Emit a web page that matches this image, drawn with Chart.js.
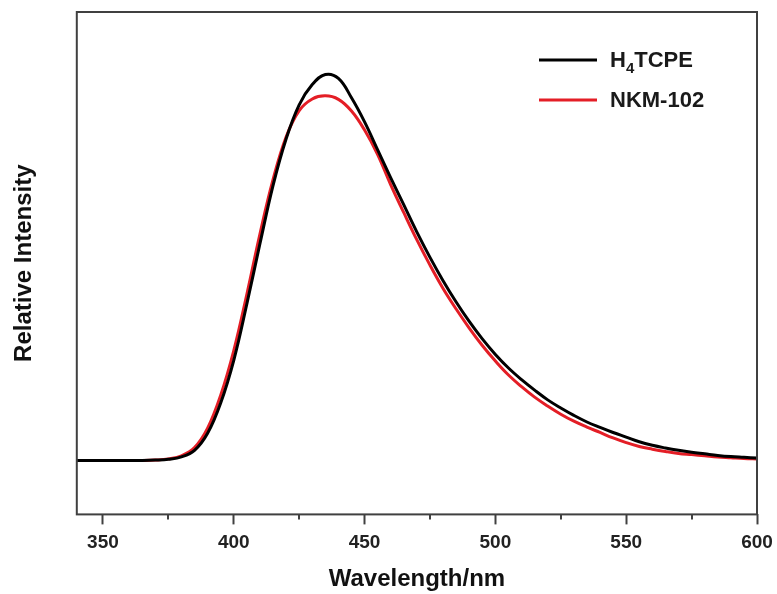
<!DOCTYPE html>
<html>
<head>
<meta charset="utf-8">
<script src="https://cdn.jsdelivr.net/npm/chart.js@4"></script>
<style>
  html, body { margin: 0; padding: 0; background: #fff; }
  #wrap { width: 777px; height: 594px; }
</style>
</head>
<body>
<div id="wrap"><canvas id="spec" width="777" height="594"></canvas></div>
<script>
/* ---------- data ---------- */
const wavelengths = [
  340, 345, 350, 355, 360, 365, 370, 375, 380, 385,
  390, 395, 400, 405, 410, 415, 420, 425, 430, 435,
  440, 445, 450, 455, 460, 465, 470, 475, 480, 485,
  490, 495, 500, 505, 510, 515, 520, 525, 530, 535,
  540, 545, 550, 555, 560, 565, 570, 575, 580, 585,
  590, 595, 600
];
const h4tcpe = [
  0.002, 0.002, 0.002, 0.002, 0.002, 0.002, 0.003, 0.005, 0.011, 0.028,
  0.072, 0.150, 0.260, 0.405, 0.560, 0.710, 0.830, 0.918, 0.970, 0.996,
  0.986, 0.936, 0.874, 0.802, 0.730, 0.660, 0.590, 0.525, 0.465, 0.410,
  0.360, 0.315, 0.275, 0.240, 0.210, 0.183, 0.158, 0.137, 0.118, 0.101,
  0.087, 0.074, 0.062, 0.050, 0.041, 0.034, 0.028, 0.023, 0.019, 0.015,
  0.012, 0.010, 0.008
];
const nkm102 = [
  0.002, 0.002, 0.002, 0.002, 0.002, 0.002, 0.003, 0.006, 0.014, 0.035,
  0.085, 0.170, 0.285, 0.430, 0.585, 0.725, 0.835, 0.903, 0.933, 0.941,
  0.932, 0.902, 0.853, 0.790, 0.712, 0.640, 0.570, 0.505, 0.445, 0.392,
  0.343, 0.298, 0.258, 0.222, 0.192, 0.165, 0.142, 0.121, 0.103, 0.088,
  0.074, 0.060, 0.048, 0.038, 0.031, 0.025, 0.020, 0.017, 0.014, 0.011,
  0.009, 0.007, 0.006
];
const seriesLabels = ['H\u2084TCPE', 'NKM-102'];
const seriesColors = ['#000000', '#e41e26'];
const majorTicks = [350, 400, 450, 500, 550, 600];
const minorTicks = [375, 425, 475, 525, 575];

const frameColor = '#404040';
const fontFam = '"Liberation Sans", Arial, sans-serif';

const pts = arr => wavelengths.map((w, i) => ({ x: w, y: arr[i] }));

/* ---------- frame, minor ticks, inset legend ---------- */
const framePlugin = {
  id: 'frame',
  afterDraw(chart) {
    const { ctx, chartArea: a, scales: { x } } = chart;
    ctx.save();
    ctx.strokeStyle = frameColor;
    ctx.lineWidth = 2;
    ctx.strokeRect(a.left, a.top, a.right - a.left, a.bottom - a.top);
    // minor ticks, shorter than the major ones
    ctx.beginPath();
    minorTicks.forEach(v => {
      const px = Math.round(x.getPixelForValue(v));
      ctx.moveTo(px, a.bottom);
      ctx.lineTo(px, a.bottom + 5);
    });
    ctx.stroke();

    // legend inside the plot, top right
    chart.data.datasets.forEach((ds, i) => {
      const y = a.top + 48 + i * 40;
      ctx.strokeStyle = ds.borderColor;
      ctx.lineWidth = 3;
      ctx.beginPath();
      ctx.moveTo(a.right - 218, y);
      ctx.lineTo(a.right - 160, y);
      ctx.stroke();
      drawLabel(ctx, ds.label, a.right - 147, y + 1);
    });
    ctx.restore();
  }
};

// draws subscript digits (U+2080..2089) smaller and lowered
function drawLabel(ctx, text, x, y) {
  ctx.fillStyle = '#1a1a1a';
  ctx.textBaseline = 'middle';
  ctx.textAlign = 'left';
  for (const ch of text) {
    const code = ch.charCodeAt(0);
    if (code >= 0x2080 && code <= 0x2089) {
      ctx.font = 'bold 15px ' + fontFam;
      const d = String(code - 0x2080);
      ctx.fillText(d, x, y + 8);
      x += ctx.measureText(d).width;
    } else {
      ctx.font = 'bold 22px ' + fontFam;
      ctx.fillText(ch, x, y);
      x += ctx.measureText(ch).width;
    }
  }
}

new Chart(document.getElementById('spec'), {
  type: 'line',
  data: {
    datasets: [
      { label: seriesLabels[0], data: pts(h4tcpe), borderColor: seriesColors[0] },
      { label: seriesLabels[1], data: pts(nkm102), borderColor: seriesColors[1] }
    ]
  },
  options: {
    responsive: false,
    animation: false,
    events: [],
    datasets: {
      line: { borderWidth: 3, pointRadius: 0, fill: false, tension: 0.4 }
    },
    layout: { padding: { left: 0, right: 20, top: 12, bottom: 0 } },
    plugins: { legend: { display: false }, tooltip: { enabled: false } },
    scales: {
      x: {
        type: 'linear',
        min: 340,
        max: 600,
        afterBuildTicks: s => { s.ticks = majorTicks.map(v => ({ value: v })); },
        afterFit: s => { s.paddingRight = 0; s.paddingLeft = 0; },
        grid: { drawOnChartArea: false, tickLength: 10, tickColor: frameColor, tickWidth: 2 },
        border: { display: false },
        ticks: { color: '#222', padding: 7, maxRotation: 0, font: { family: fontFam, size: 19, weight: 'bold' } },
        title: { display: true, text: 'Wavelength/nm', color: '#111', padding: { top: 4, bottom: 0 },
                 font: { family: fontFam, size: 24, weight: 'bold' } }
      },
      y: {
        min: -0.137,
        max: 1.157,
        grid: { display: false, drawTicks: false },
        border: { display: false },
        ticks: { display: false },
        title: { display: true, text: 'Relative Intensity', color: '#111', padding: { top: 10, bottom: 38 },
                 font: { family: fontFam, size: 24, weight: 'bold' } }
      }
    }
  },
  plugins: [framePlugin]
});
</script>
</body>
</html>
